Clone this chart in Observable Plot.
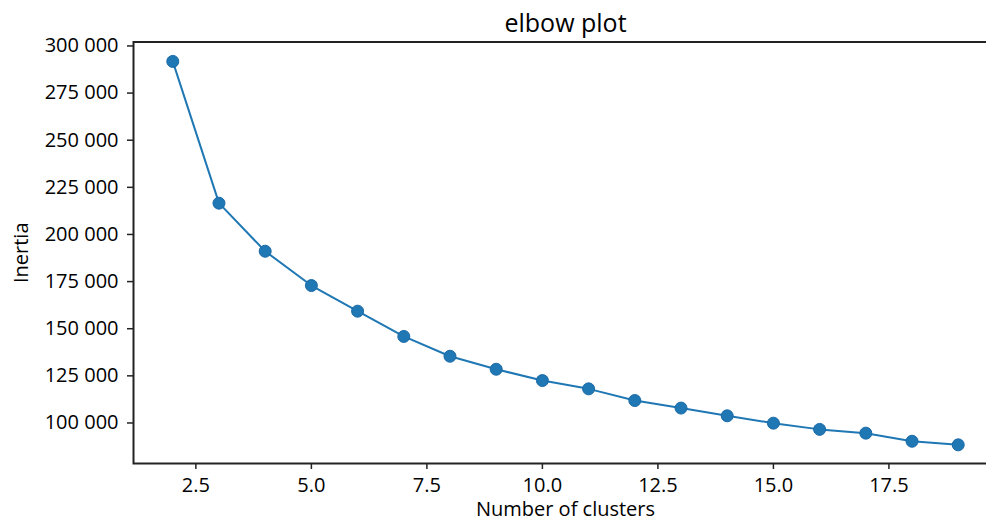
<!DOCTYPE html>
<html>
<head>
<meta charset="utf-8">
<script src="https://cdn.jsdelivr.net/npm/d3@7"></script>
<script src="https://cdn.jsdelivr.net/npm/@observablehq/plot@0.6"></script>
<style>
  html, body { margin: 0; padding: 0; background: #fff; overflow: hidden; }
</style>
</head>
<body>
<div id="chart"></div>
<script>
const clusters = [2, 3, 4, 5, 6, 7, 8, 9, 10, 11, 12, 13, 14, 15, 16, 17, 18, 19];
const inertia = [291800, 216600, 191100, 172900, 159300, 145900, 135400, 128500, 122500, 118100, 111900, 107900, 103800, 99900, 96600, 94600, 90300, 88400];
const xTicks = [2.5, 5.0, 7.5, 10.0, 12.5, 15.0, 17.5];
const yTicks = [100000, 125000, 150000, 175000, 200000, 225000, 250000, 275000, 300000];
const titleText = "elbow plot";
const xLabel = "Number of clusters";
const yLabel = "Inertia";

const data = clusters.map((k, i) => ({k, v: inertia[i]}));
const fmtY = d => d3.format(",")(d).replace(/,/g, " ");
const blue = "#1f77b4";

const chart = Plot.plot({
  width: 986,
  height: 522,
  marginLeft: 133,
  marginRight: -11,
  marginTop: 41.5,
  marginBottom: 59,
  style: {fontFamily: "'Open Sans', sans-serif", fontSize: "20px", color: "#000", background: "#fff", overflow: "hidden"},
  x: {domain: [1.15, 19.85]},
  y: {domain: [78500, 302100]},
  marks: [
    Plot.line(data, {x: "k", y: "v", stroke: blue, strokeWidth: 2}),
    Plot.dot(data, {x: "k", y: "v", r: 6, fill: blue, stroke: "#1a6aa8", strokeWidth: 1}),
    Plot.axisX({ticks: xTicks, tickFormat: d => d.toFixed(1), tickSize: 6, tickPadding: 8, label: null, stroke: "#222", strokeWidth: 1.5, fontSize: 20}),
    Plot.axisY({ticks: yTicks, tickFormat: fmtY, tickSize: 6, tickPadding: 9, label: null, stroke: "#222", strokeWidth: 1.5, fontSize: 20}),
    Plot.frame({stroke: "#222", strokeWidth: 2}),
    Plot.text([titleText], {frameAnchor: "top", lineAnchor: "middle", textAnchor: "middle", dy: -18.5, fontSize: 25, fill: "#000"}),
    Plot.text([xLabel], {frameAnchor: "bottom", lineAnchor: "middle", textAnchor: "middle", dy: 46.5, fontSize: 20, fill: "#000"}),
    Plot.text([yLabel], {frameAnchor: "left", lineAnchor: "middle", textAnchor: "middle", dx: -112, rotate: -90, fontSize: 20, fill: "#000"})
  ]
});
document.getElementById("chart").appendChild(chart);
</script>
</body>
</html>
